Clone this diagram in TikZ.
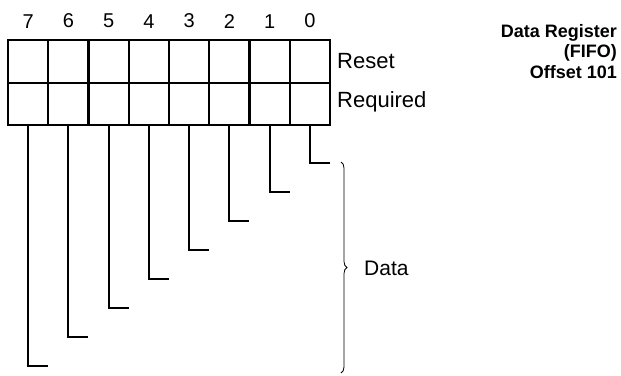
\documentclass[tikz,border=0pt]{standalone}
\usepackage{fontspec}
\setmainfont{Liberation Sans}
\usetikzlibrary{positioning,decorations.pathreplacing}

\begin{document}
\begin{tikzpicture}[
  x=1pt, y=-1pt,
  font=\fontsize{22}{26}\selectfont,
  bitcell/.style={draw, line width=2.4pt, minimum width=40.25pt, minimum height=42.5pt, inner sep=0pt, outer sep=0pt},
  lead/.style={line width=2pt},
  bitnum/.style={inner sep=0pt, font=\fontsize{20}{24}\selectfont},
  lbl/.style={anchor=west, inner sep=0pt},
  titlebox/.style={anchor=north east, align=right, inner sep=0pt, font=\fontsize{18}{20.5}\selectfont\bfseries}
]
\useasboundingbox (0,0) rectangle (621,375);
\foreach \i in {0,...,7} {
  \node[bitcell] (t\i) at ({330-40.25*(\i+0.5)},61.5) {};
  \node[bitcell] (b\i) at ({330-40.25*(\i+0.5)},104) {};
  \node[bitnum, above=12pt of t\i] (n\i) {\i};
  \coordinate (e\i) at ({330-40.25*(\i+0.5)+20},{163+29*\i});
  \draw[lead] (b\i.south) |- (e\i);
}
\node[lbl, right=7pt of t0] (reset) {Reset};
\node[lbl, right=7pt of b0, yshift=2pt] (req) {Required};
\coordinate (brtop) at (341,162);
\coordinate (brbot) at (341,373);
\draw[decorate, decoration={brace, amplitude=6pt}, line width=0.8pt] (brtop) -- (brbot);
\node[lbl, font=\fontsize{21}{25}\selectfont] (data) at (364,268) {Data};
\node[titlebox] (title) at (617,24) {Data Register\\(FIFO)\\Offset 101};
\end{tikzpicture}
\end{document}
